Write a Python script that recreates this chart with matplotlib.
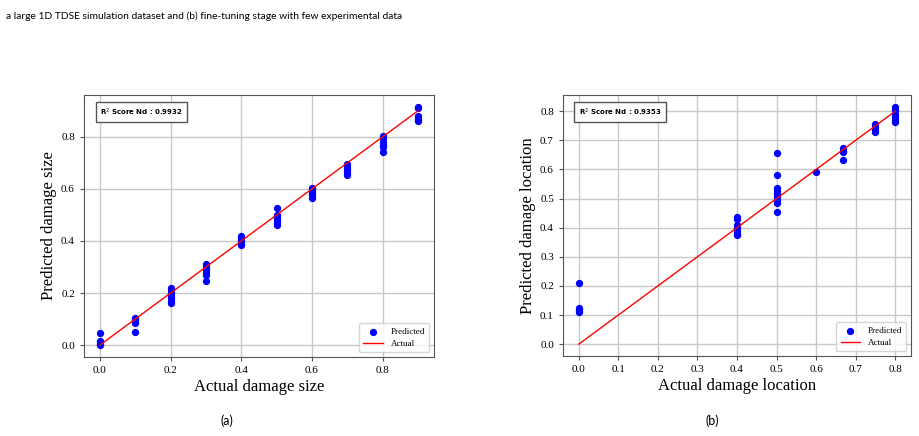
import matplotlib
matplotlib.use('agg')
import matplotlib.pyplot as plt

# ---- data ----
size_actual = [0.0] * 5 + [0.1] * 6 + [0.2] * 7 + [0.3] * 6 + [0.4] * 5 \
    + [0.5] * 6 + [0.6] * 5 + [0.7] * 5 + [0.8] * 6 + [0.9] * 6
size_pred = [
    0.045, 0.015, 0.01, 0.005, 0.0,
    0.105, 0.10, 0.095, 0.09, 0.085, 0.052,
    0.22, 0.21, 0.20, 0.19, 0.18, 0.17, 0.16,
    0.31, 0.30, 0.29, 0.28, 0.27, 0.247,
    0.42, 0.41, 0.40, 0.39, 0.385,
    0.525, 0.50, 0.49, 0.48, 0.47, 0.462,
    0.605, 0.595, 0.585, 0.575, 0.565,
    0.695, 0.685, 0.675, 0.665, 0.655,
    0.805, 0.795, 0.78, 0.77, 0.76, 0.74,
    0.915, 0.91, 0.88, 0.87, 0.865, 0.86,
]
size_line = [0.0, 0.9]
size_r2 = 0.9932

loc_actual = [0.0] * 5 + [0.4] * 7 + [0.5] * 9 + [0.6] + [0.667] * 4 \
    + [0.75] * 4 + [0.8] * 6
loc_pred = [
    0.21, 0.125, 0.12, 0.115, 0.11,
    0.435, 0.43, 0.41, 0.40, 0.39, 0.38, 0.375,
    0.657, 0.58, 0.535, 0.525, 0.515, 0.505, 0.495, 0.485, 0.454,
    0.59,
    0.675, 0.665, 0.66, 0.634,
    0.755, 0.745, 0.735, 0.73,
    0.815, 0.805, 0.79, 0.78, 0.77, 0.762,
]
loc_line = [0.0, 0.8]
loc_r2 = 0.9353

caption = ("a large 1D TDSE simulation dataset and (b) fine-tuning stage "
           "with few experimental data")

# ---- figure ----
fig = plt.figure(figsize=(9.19, 4.36), dpi=100)

serif = 'Liberation Serif'


def panel(rect, xs, ys, line, r2, xlabel, ylabel):
    ax = fig.add_axes(rect)
    ax.scatter(xs, ys, s=18, color='blue', label='Predicted', zorder=3)
    ax.plot(line, line, color='red', lw=1, label='Actual', zorder=4)
    ax.grid(True, color='#c8c8c8', lw=1)
    ax.set_axisbelow(True)
    for sp in ax.spines.values():
        sp.set_color('#555555')
    ax.tick_params(labelsize=8, color='#555555', length=3)
    for lab in ax.get_xticklabels() + ax.get_yticklabels():
        lab.set_fontfamily(serif)
    ax.set_xlabel(xlabel, family=serif, fontsize=12, labelpad=3)
    ax.set_ylabel(ylabel, family=serif, fontsize=12, labelpad=3)
    ax.text(0.045, 0.935, 'R$^2$ Score Nd : %.4f' % r2, transform=ax.transAxes,
            fontsize=5, fontweight='bold', family='DejaVu Sans', va='center',
            bbox=dict(boxstyle='square,pad=0.6', fc='white', ec='#555555', lw=1))
    ax.legend(loc='lower right', prop={'family': serif, 'size': 6.5},
              handlelength=2.2, borderpad=0.5, labelspacing=0.4)
    return ax


ax1 = panel([0.0914, 0.1812, 0.3808, 0.601], size_actual, size_pred, size_line,
            size_r2, 'Actual damage size', 'Predicted damage size')
ax2 = panel([0.6126, 0.1835, 0.3787, 0.5986], loc_actual, loc_pred, loc_line,
            loc_r2, 'Actual damage location', 'Predicted damage location')

fig.text(0.006, 0.963, caption, family='Lato', fontsize=7.4, va='center')
fig.text(0.247, 0.035, '(a)', family='Lato', fontsize=9, ha='center', va='center')
fig.text(0.775, 0.035, '(b)', family='Lato', fontsize=9, ha='center', va='center')

fig.savefig('out.png', dpi=100)
